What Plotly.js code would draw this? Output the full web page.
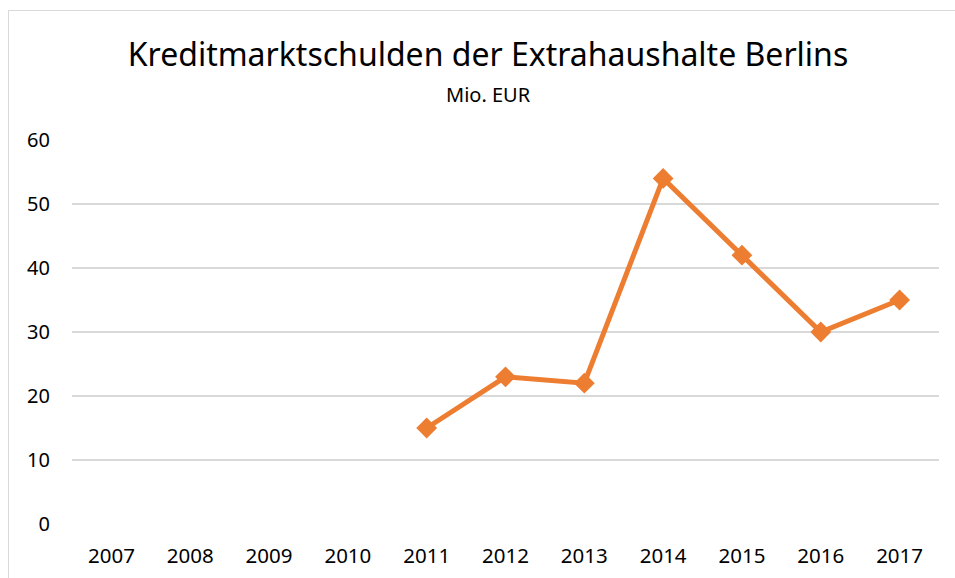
<!DOCTYPE html>
<html>
<head>
<meta charset="utf-8">
<script src="https://cdn.plot.ly/plotly-3.0.1.min.js"></script>
<style>
html,body{margin:0;padding:0;background:#fff;overflow:hidden;}
#frame{position:absolute;left:8px;top:10px;width:970px;height:600px;border:1.5px solid #d9d9d9;box-sizing:border-box;}
#chart{position:absolute;left:0;top:0;width:955px;height:578px;}
</style>
</head>
<body>
<div id="frame"></div>
<div id="chart"></div>
<script>
const years = ["2007","2008","2009","2010","2011","2012","2013","2014","2015","2016","2017"];
const debt = [null,null,null,null,15,23,22,54,42,30,35];
const yTicks = [0,10,20,30,40,50,60];

const trace = {
  x: years, y: debt, type: 'scatter', mode: 'lines+markers',
  line: {color: '#ED7D31', width: 5},
  marker: {symbol: 'diamond', size: 16, color: '#ED7D31'},
  connectgaps: false, hoverinfo: 'x+y'
};

const layout = {
  width: 955, height: 578,
  paper_bgcolor: 'rgba(0,0,0,0)', plot_bgcolor: 'rgba(0,0,0,0)',
  margin: {l: 72, r: 16, t: 139.6, b: 53.7},
  showlegend: false,
  font: {family: 'Noto Sans, sans-serif', color: '#000'},
  title: {text: 'Kreditmarktschulden der Extrahaushalte Berlins', x: 488/955, xanchor: 'center', xref: 'container',
          y: 1 - 55/578, yanchor: 'middle', yref: 'container',
          font: {size: 32, family: 'Noto Sans, sans-serif', color: '#000'}},
  annotations: [{text: 'Mio. EUR', xref: 'paper', yref: 'paper', x: (488-72)/867, y: 1 + (139.6-94)/384.7,
    xanchor: 'center', yanchor: 'middle', showarrow: false, font: {size: 20, color: '#000'}}],
  xaxis: {type: 'category', range: [-0.5, 10.5], showgrid: false, zeroline: false, showline: false,
          ticks: '', tickfont: {size: 20.5}, ticklabelstandoff: 17, fixedrange: true},
  yaxis: {range: [0, 60], tickvals: yTicks, ticktext: yTicks.map(String), showgrid: true, gridcolor: '#d9d9d9', gridwidth: 1.5,
          zeroline: false, showline: false, ticks: '', tickfont: {size: 20}, ticklabelstandoff: 21, fixedrange: true}
};

Plotly.newPlot('chart', [trace], layout, {displayModeBar: false, staticPlot: true});
</script>
</body>
</html>
